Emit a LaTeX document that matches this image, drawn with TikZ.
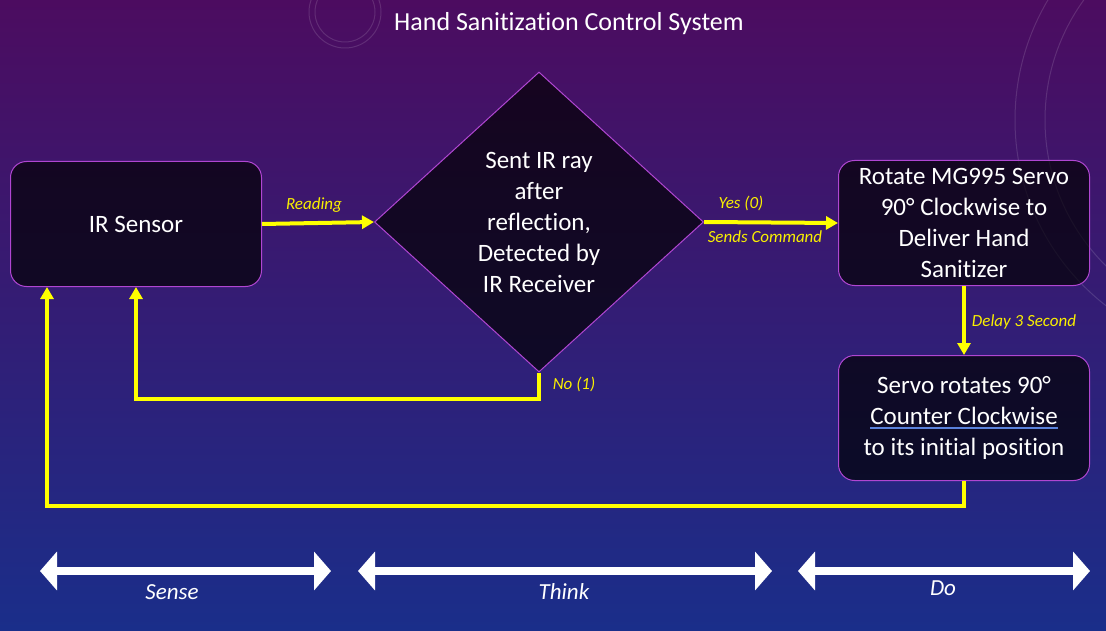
\documentclass[tikz,border=0pt]{standalone}
\usepackage{fontspec}
\setmainfont{Carlito}[Ligatures=NoCommon]
\usetikzlibrary{arrows.meta,shapes.geometric}
\definecolor{bgtop}{RGB}{76,12,96}
\definecolor{bgmid}{RGB}{58,22,126}
\definecolor{bgbot}{RGB}{26,46,138}
\definecolor{boxedge}{RGB}{176,70,210}
\definecolor{yline}{RGB}{255,255,0}
\definecolor{ylabel}{RGB}{250,240,0}
\definecolor{ulblue}{RGB}{90,130,220}
\newcommand\spellmark[1]{\setbox0\hbox{#1}\rlap{\color{ulblue}\rule[-4pt]{\wd0}{1.4pt}}\box0}
\begin{document}
\begin{tikzpicture}[x=1pt,y=-1pt,
  procbox/.style={draw=boxedge, line width=1pt, fill=black, fill opacity=0.68, text opacity=1,
    text=white, rounded corners=16pt, minimum width=251pt, minimum height=125pt,
    align=center, inner sep=1pt, font=\fontsize{25}{31}\selectfont},
  decbox/.style={diamond, draw=boxedge, line width=1pt, fill=black, fill opacity=0.68, text opacity=1,
    text=white, minimum width=329pt, minimum height=300pt, inner sep=0pt,
    align=center, font=\fontsize{25}{31}\selectfont},
  yarrow/.style={draw=yline, line width=4pt, -{Triangle[length=12pt,width=13pt]}},
  ylab/.style={text=ylabel, font=\fontsize{17}{20}\selectfont\itshape},
  warrow/.style={draw=white, line width=8pt,
    {Triangle[length=17pt,width=38pt]}-{Triangle[length=17pt,width=38pt]}},
  phase/.style={text=white, font=\fontsize{23}{27}\selectfont\itshape},
  titletext/.style={text=white, font=\fontsize{26}{30}\selectfont},
  deco/.style={draw=white, draw opacity=0.13, line width=1pt}
]
\useasboundingbox (0,0) rectangle (1106,631);
\shade[top color=bgtop, middle color=bgmid, bottom color=bgbot] (0,0) rectangle (1106,631);
% faint background decorations
\begin{scope}
\clip (0,0) rectangle (1106,631);
\draw[deco] (345,12) circle (30);
\draw[deco] (345,12) circle (36);
\draw[deco] (1250,120) circle (235);
\draw[deco] (1250,120) circle (205);
\end{scope}

\node[titletext] (title) at (569,24) {Hand Sanitization Control System};

\node[procbox] (ir) at (136,224) {IR Sensor};
\node[decbox] (dia) at (539,222) {Sent IR ray\\after\\reflection,\\Detected by\\IR Receiver};
\node[procbox] (rot) at (964,223) {Rotate MG995 Servo\\90° Clockwise to\\Deliver Hand\\Sanitizer};
\node[procbox] (ret) at (964,418) {Servo rotates 90°\\\spellmark{Counter Clockwise}\\to its initial position};

\draw[yarrow] (ir.east) -- (dia.west);
\draw[yarrow] (dia.east) -- (rot.west);
\draw[yarrow] (rot.south) -- (ret.north);
\draw[yarrow] (dia.south) -- ++(0,26) -| (ir.south);
\draw[yarrow] (ret.south) -- ++(0,25) -| ([xshift=-89pt]ir.south);

\node[ylab] (lread) at (314,205) {Reading};
\node[ylab] (lyes) at (741,203) {Yes (0)};
\node[ylab] (lsend) at (765,237) {Sends Command};
\node[ylab] (ldelay) at (1024,322) {Delay 3 Second};
\node[ylab] (lno) at (574,384) {No (1)};

\coordinate (s1) at (40,571);
\coordinate (s2) at (331,571);
\coordinate (t1) at (358,571);
\coordinate (t2) at (772,571);
\coordinate (d1) at (798,571);
\coordinate (d2) at (1090,571);
\draw[warrow] (s1) -- (s2);
\draw[warrow] (t1) -- (t2);
\draw[warrow] (d1) -- (d2);
\node[phase] (sense) at (172,592) {Sense};
\node[phase] (think) at (564,592) {Think};
\node[phase] (do) at (943,588) {Do};
\end{tikzpicture}
\end{document}
